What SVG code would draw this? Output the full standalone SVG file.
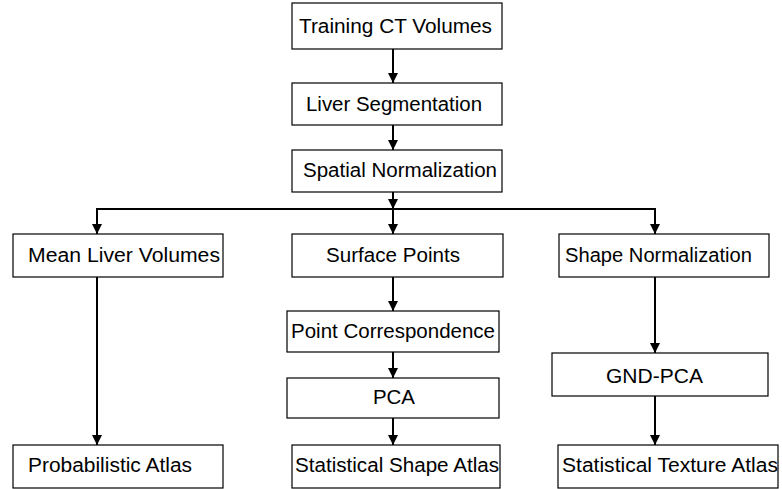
<svg xmlns="http://www.w3.org/2000/svg" width="782" height="489" viewBox="0 0 782 489">
<style>
.box{fill:#fff;stroke:#000;stroke-width:1.2}
.t{font-family:"Liberation Sans",Arial,sans-serif;font-size:20px;fill:#000}
.c{fill:none;stroke:#000;stroke-width:2}
</style>
<defs>
<marker id="ah" markerUnits="userSpaceOnUse" markerWidth="10" markerHeight="11" refX="5" refY="10" orient="auto" viewBox="0 0 10 11">
<path d="M0,0 L10,0 L5,10 Z" fill="#000" transform="rotate(0)"/>
</marker>
<marker id="a" markerUnits="userSpaceOnUse" markerWidth="11" markerHeight="10" refX="10" refY="5" orient="auto" viewBox="0 0 11 10">
<path d="M0,0 L10,5 L0,10 Z" fill="#000"/>
</marker>
</defs>
<rect width="782" height="489" fill="#fff"/>
<g id="connectors">
<path class="c" d="M393,49 V83" marker-end="url(#a)"/>
<path class="c" d="M393,125 V150" marker-end="url(#a)"/>
<path class="c" d="M393,192 V209" marker-end="url(#a)"/>
<path class="c" d="M96,209 H656"/>
<path class="c" d="M97,209 V234" marker-end="url(#a)"/>
<path class="c" d="M393,209 V234" marker-end="url(#a)"/>
<path class="c" d="M655,209 V234" marker-end="url(#a)"/>
<path class="c" d="M97,277 V445" marker-end="url(#a)"/>
<path class="c" d="M393,277 V311" marker-end="url(#a)"/>
<path class="c" d="M393,352 V378" marker-end="url(#a)"/>
<path class="c" d="M393,418 V445" marker-end="url(#a)"/>
<path class="c" d="M655,277 V353" marker-end="url(#a)"/>
<path class="c" d="M655,396 V445" marker-end="url(#a)"/>
</g>
<g id="n1"><rect class="box" x="292" y="3" width="210" height="46"/><text class="t" x="299" y="33" textLength="193" lengthAdjust="spacingAndGlyphs">Training CT Volumes</text></g>
<g id="n2"><rect class="box" x="292" y="83" width="210" height="42"/><text class="t" x="306" y="111" textLength="176" lengthAdjust="spacingAndGlyphs">Liver Segmentation</text></g>
<g id="n3"><rect class="box" x="292" y="150" width="210" height="42"/><text class="t" x="303" y="177" textLength="194" lengthAdjust="spacingAndGlyphs">Spatial Normalization</text></g>
<g id="n4"><rect class="box" x="13" y="234" width="210" height="43"/><text class="t" x="28" y="262" textLength="192" lengthAdjust="spacingAndGlyphs">Mean Liver Volumes</text></g>
<g id="n5"><rect class="box" x="292" y="234" width="211" height="43"/><text class="t" x="326" y="262" textLength="134" lengthAdjust="spacingAndGlyphs">Surface Points</text></g>
<g id="n6"><rect class="box" x="559" y="234" width="210" height="43"/><text class="t" x="565" y="262" textLength="187" lengthAdjust="spacingAndGlyphs">Shape Normalization</text></g>
<g id="n7"><rect class="box" x="287" y="311" width="212" height="41"/><text class="t" x="291" y="338" textLength="204" lengthAdjust="spacingAndGlyphs">Point Correspondence</text></g>
<g id="n8"><rect class="box" x="287" y="378" width="212" height="40"/><text class="t" x="373" y="404" textLength="42" lengthAdjust="spacingAndGlyphs">PCA</text></g>
<g id="n9"><rect class="box" x="552" y="353" width="216" height="43"/><text class="t" x="606" y="383" textLength="97" lengthAdjust="spacingAndGlyphs">GND-PCA</text></g>
<g id="n10"><rect class="box" x="13" y="445" width="210" height="43"/><text class="t" x="28" y="472" textLength="164" lengthAdjust="spacingAndGlyphs">Probabilistic Atlas</text></g>
<g id="n11"><rect class="box" x="292" y="445" width="208" height="43"/><text class="t" x="295" y="472" textLength="204" lengthAdjust="spacingAndGlyphs">Statistical Shape Atlas</text></g>
<g id="n12"><rect class="box" x="558" y="445" width="220" height="43"/><text class="t" x="562" y="472" textLength="216" lengthAdjust="spacingAndGlyphs">Statistical Texture Atlas</text></g>
</svg>
